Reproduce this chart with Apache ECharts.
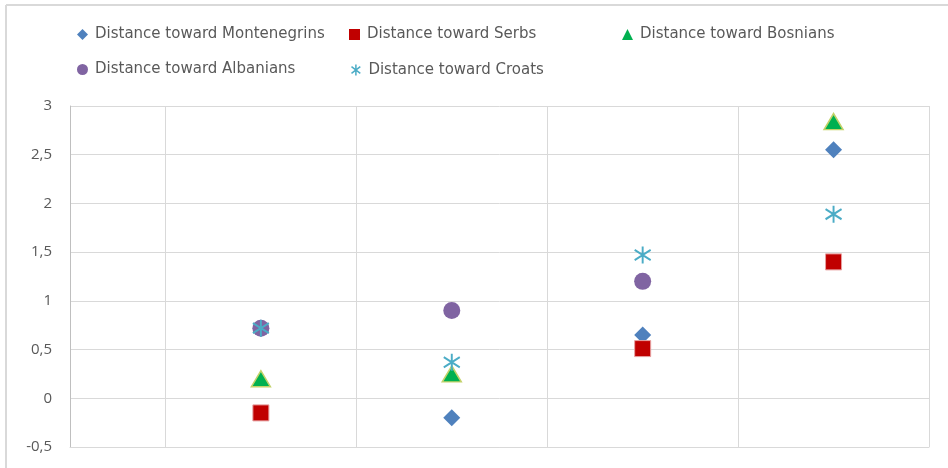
<!DOCTYPE html>
<html>
<head>
<meta charset="utf-8">
<script src="https://cdn.jsdelivr.net/npm/echarts@6/dist/echarts.min.js"></script>
<style>
  html, body { margin: 0; padding: 0; background: #fff; }
  #chart { width: 948px; height: 468px; }
</style>
</head>
<body>
<div id="chart"></div>
<script>
// groups along the x axis (1..4)
var groups = [1, 2, 3, 4];
var montenegrins = [0.72, -0.2, 0.65, 2.55];
var serbs        = [-0.15, null, 0.51, 1.40];
var bosnians     = [0.2, 0.25, null, 2.84];
var albanians    = [0.72, 0.9, 1.2, null];
var croats       = [0.72, 0.37, 1.47, 1.89];
var yTicks = [-0.5, 0, 0.5, 1, 1.5, 2, 2.5, 3];

var names = [
  'Distance toward Montenegrins',
  'Distance toward Serbs',
  'Distance toward Bosnians',
  'Distance toward Albanians',
  'Distance toward Croats'
];

function pairs(vals) {
  return groups.map(function (g, i) { return [g, vals[i]]; });
}

var star = 'path://M5,0L5,10M1,2L9,8M1,8L9,2';

var series = [
  { name: names[0], data: pairs(montenegrins), symbol: 'diamond', symbolSize: [17, 17],
    itemStyle: { color: '#4f81bd' } },
  { name: names[1], data: pairs(serbs), symbol: 'rect', symbolSize: 16,
    itemStyle: { color: '#c00000', borderColor: '#e6a0a0', borderWidth: 1 } },
  { name: names[2], data: pairs(bosnians), symbol: 'triangle', symbolSize: [19, 16],
    itemStyle: { color: '#00b050', borderColor: '#c3d26a', borderWidth: 1.5 } },
  { name: names[3], data: pairs(albanians), symbol: 'circle', symbolSize: 17,
    itemStyle: { color: '#8064a2' } },
  { name: names[4], data: pairs(croats), symbol: star, symbolSize: [16, 17],
    itemStyle: { color: 'none', borderColor: '#4bacc6', borderWidth: 2 } }
].map(function (s) {
  s.type = 'scatter';
  s.itemStyle.opacity = 1;
  s.emphasis = { disabled: true };
  return s;
});

var legendPos = [[77, 27], [349, 27], [622, 27], [77, 62], [349, 62]];
var legends = names.map(function (n, i) {
  return {
    data: [n],
    left: legendPos[i][0],
    top: legendPos[i][1],
    itemWidth: 11,
    itemHeight: 11,
    itemGap: 5,
    padding: 0,
    selectedMode: false,
    itemStyle: i === 4 ? { borderWidth: 1.5 } : { borderWidth: 0 },
    textStyle: { fontFamily: 'DejaVu Sans', fontSize: 15, color: '#595959', padding: [0, 0, 0, 2] }
  };
});

var chart = echarts.init(document.getElementById('chart'));
chart.setOption({
  animation: false,
  backgroundColor: '#fff',
  graphic: [
    { type: 'line', shape: { x1: 6, y1: 5, x2: 6, y2: 468 },
      style: { stroke: '#d9d9d9', lineWidth: 2 }, silent: true },
    { type: 'line', shape: { x1: 6, y1: 5, x2: 948, y2: 5 },
      style: { stroke: '#d9d9d9', lineWidth: 2 }, silent: true }
  ],
  legend: legends,
  grid: { left: 70, right: 19, top: 106, bottom: 21 },
  xAxis: {
    type: 'value',
    min: 0,
    max: 4.5,
    interval: 0.5,
    axisLabel: { show: false },
    axisTick: { show: false },
    axisLine: { show: true, onZero: false, lineStyle: { color: '#d9d9d9' } },
    splitLine: { show: true, lineStyle: { color: ['rgba(0,0,0,0)', '#d9d9d9'], width: 1 } }
  },
  yAxis: {
    type: 'value',
    min: yTicks[0],
    max: yTicks[yTicks.length - 1],
    interval: 0.5,
    axisLine: { show: true, lineStyle: { color: '#bfbfbf' } },
    axisTick: { show: false },
    axisLabel: {
      margin: 18,
      fontFamily: 'Open Sans',
      fontSize: 15,
      color: '#595959',
      formatter: function (v) { return String(v).replace('.', ','); }
    },
    splitLine: { lineStyle: { color: '#d9d9d9' } }
  },
  series: series
});
</script>
</body>
</html>
